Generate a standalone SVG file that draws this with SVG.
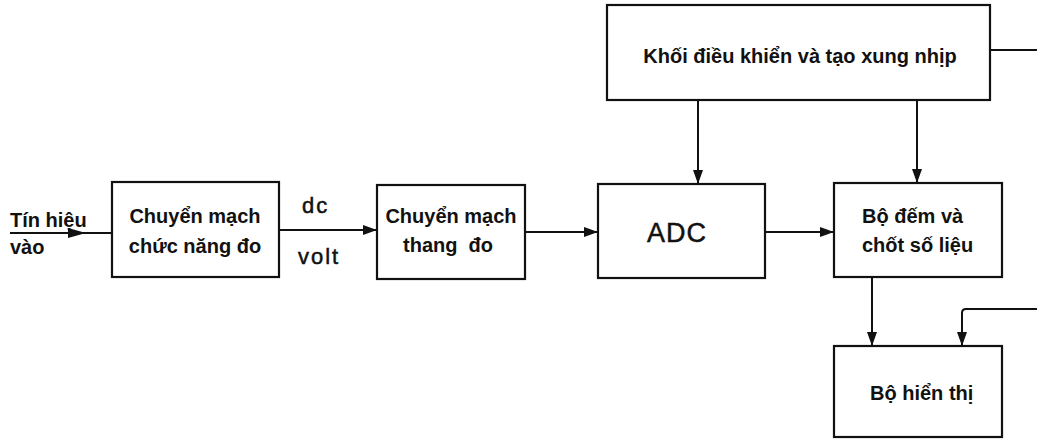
<svg xmlns="http://www.w3.org/2000/svg" width="1037" height="440" viewBox="0 0 1037 440">
<style>
.box{fill:#fff;stroke:#111;stroke-width:2.2}
.ln{fill:none;stroke:#111;stroke-width:2}
.t{font-family:"Liberation Sans",Arial,sans-serif;font-size:20px;font-weight:bold;fill:#111}
.n{font-family:"Liberation Sans",Arial,sans-serif;font-weight:normal;fill:#111;stroke:#111;stroke-width:0.5}
</style>
<defs>
<marker id="ah" viewBox="0 0 14 10" refX="14" refY="5" markerWidth="14" markerHeight="10" markerUnits="userSpaceOnUse" orient="auto">
<path d="M0,0 L14,5 L0,10 Z" fill="#111"/>
</marker>
</defs>
<rect width="1037" height="440" fill="#fff"/>
<g id="connectors">
<line class="ln" x1="10" y1="233" x2="112" y2="233"/>
<path d="M68,228 L86,233 L68,238 Z" fill="#111"/>
<line class="ln" x1="279" y1="230" x2="377" y2="230" marker-end="url(#ah)"/>
<line class="ln" x1="525" y1="232" x2="598" y2="232" marker-end="url(#ah)"/>
<line class="ln" x1="765" y1="232" x2="834" y2="232" marker-end="url(#ah)"/>
<line class="ln" x1="698" y1="100" x2="698" y2="184" marker-end="url(#ah)"/>
<line class="ln" x1="917" y1="100" x2="917" y2="183" marker-end="url(#ah)"/>
<line class="ln" x1="990" y1="50" x2="1037" y2="50"/>
<line class="ln" x1="872" y1="277" x2="872" y2="346" marker-end="url(#ah)"/>
<path class="ln" d="M1037,309 L966,309 Q962,309 962,313 L962,346" marker-end="url(#ah)"/>
</g>
<g id="input-label">
<text class="t" x="10" y="227">Tín hiệu</text>
<text class="t" x="10" y="254">vào</text>
</g>
<g id="dc-volt">
<text class="n" x="302" y="213" style="font-size:22px;letter-spacing:2px">dc</text>
<text class="n" x="298" y="264" style="font-size:22px;letter-spacing:2px">volt</text>
</g>
<g id="node-function-switch">
<rect class="box" x="112" y="182" width="167" height="95"/>
<text class="t" x="195" y="223" text-anchor="middle">Chuyển mạch</text>
<text class="t" x="195" y="253" text-anchor="middle">chức năng đo</text>
</g>
<g id="node-range-switch">
<rect class="box" x="377" y="185" width="148" height="94"/>
<text class="t" x="451" y="223" text-anchor="middle">Chuyển mạch</text>
<text class="t" x="448" y="252" text-anchor="middle" xml:space="preserve">thang  đo</text>
</g>
<g id="node-adc">
<rect class="box" x="598" y="184" width="167" height="94"/>
<text class="n" x="677" y="242" text-anchor="middle" style="font-size:27px;letter-spacing:1px">ADC</text>
</g>
<g id="node-counter">
<rect class="box" x="834" y="183" width="168" height="94"/>
<text class="t" x="862" y="223">Bộ đếm và</text>
<text class="t" x="862" y="252">chốt số liệu</text>
</g>
<g id="node-control">
<rect class="box" x="607" y="5" width="383" height="95"/>
<text class="t" x="800" y="63" text-anchor="middle">Khối điều khiển và tạo xung nhịp</text>
</g>
<g id="node-display">
<rect class="box" x="834" y="346" width="168" height="91"/>
<text class="t" x="870" y="400">Bộ hiển thị</text>
</g>
</svg>
